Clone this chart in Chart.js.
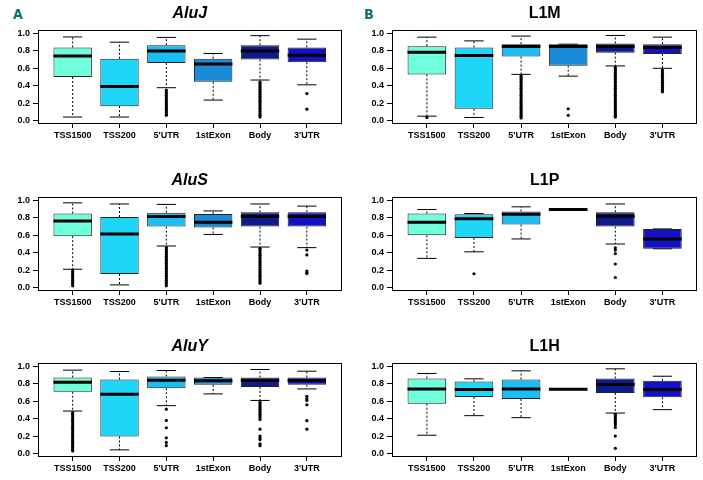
<!DOCTYPE html>
<html>
<head>
<meta charset="utf-8">
<script src="https://cdn.jsdelivr.net/npm/chart.js@4.4.1/dist/chart.umd.min.js"></script>
<style>
  html, body { margin: 0; padding: 0; background: #fff; width: 703px; height: 480px; overflow: hidden; }
  canvas { position: absolute; }
  .letter { position: absolute; font-family: "Liberation Sans Narrow", "DejaVu Sans Condensed", sans-serif;
            font-weight: bold; font-size: 14px; line-height: 14px; color: #0f6e70; }
</style>
</head>
<body>
<div class="letter" style="left:13px;top:7px">A</div>
<div class="letter" style="left:364px;top:7px">B</div>
<canvas id="c0" width="351" height="146" style="left:0;top:0"></canvas>
<canvas id="c1" width="352" height="146" style="left:351px;top:0"></canvas>
<canvas id="c2" width="351" height="146" style="left:0;top:167px"></canvas>
<canvas id="c3" width="352" height="146" style="left:351px;top:167px"></canvas>
<canvas id="c4" width="351" height="146" style="left:0;top:333px"></canvas>
<canvas id="c5" width="352" height="146" style="left:351px;top:333px"></canvas>
<script>
const CATEGORIES = ['TSS1500', 'TSS200', "5'UTR", '1stExon', 'Body', "3'UTR"];
const Y_TICKS = [0, 0.2, 0.4, 0.6, 0.8, 1.0];
const COLORS = ['#70FFDC', '#1ED6F8', '#1BBEF3', '#1A8BD8', '#0D1B8F', '#1212C4'];

// per category: [lower whisker, Q1, median, Q3, upper whisker]
const ALUJ = [
  [0.04, 0.50, 0.74, 0.84, 0.96],
  [0.04, 0.165, 0.39, 0.71, 0.90],
  [0.377, 0.66, 0.80, 0.865, 0.955],
  [0.235, 0.445, 0.65, 0.71, 0.77],
  [0.465, 0.70, 0.80, 0.865, 0.975],
  [0.41, 0.67, 0.75, 0.84, 0.935]
];
const ALUJ_OUT = [
  [], [],
  [0.35, 0.33, 0.31, 0.29, 0.27, 0.25, 0.23, 0.21, 0.19, 0.17, 0.15, 0.13, 0.11, 0.09, 0.07, 0.06],
  [],
  [0.44, 0.42, 0.40, 0.38, 0.36, 0.34, 0.32, 0.30, 0.28, 0.26, 0.24, 0.22, 0.20, 0.18, 0.16, 0.14, 0.12, 0.10, 0.08, 0.06, 0.04],
  [0.31, 0.13]
];

const L1M = [
  [0.05, 0.53, 0.785, 0.854, 0.958],
  [0.035, 0.135, 0.746, 0.84, 0.915],
  [0.53, 0.735, 0.85, 0.877, 0.97],
  [0.51, 0.63, 0.85, 0.877, 0.877],
  [0.627, 0.78, 0.85, 0.885, 0.977],
  [0.60, 0.765, 0.838, 0.877, 0.958]
];
const L1M_OUT = [
  [0.035],
  [],
  [0.51, 0.49, 0.47, 0.45, 0.43, 0.41, 0.39, 0.37, 0.35, 0.33, 0.31, 0.29, 0.27, 0.25, 0.23, 0.21, 0.19, 0.17, 0.15, 0.13, 0.11, 0.09, 0.07, 0.05, 0.03],
  [0.135, 0.06],
  [0.61, 0.59, 0.57, 0.55, 0.53, 0.51, 0.49, 0.47, 0.45, 0.43, 0.41, 0.39, 0.37, 0.35, 0.33, 0.31, 0.29, 0.27, 0.25, 0.23, 0.21, 0.19, 0.17, 0.15, 0.13, 0.11, 0.09, 0.07, 0.05, 0.04],
  [0.58, 0.56, 0.54, 0.52, 0.50, 0.48, 0.46, 0.44, 0.42, 0.40, 0.38, 0.36, 0.34, 0.33]
];

const ALUS = [
  [0.21, 0.59, 0.765, 0.85, 0.973],
  [0.03, 0.155, 0.615, 0.81, 0.96],
  [0.477, 0.70, 0.815, 0.86, 0.955],
  [0.61, 0.69, 0.75, 0.846, 0.88],
  [0.465, 0.70, 0.815, 0.865, 0.96],
  [0.458, 0.70, 0.815, 0.865, 0.935]
];
const ALUS_OUT = [
  [0.20, 0.18, 0.16, 0.14, 0.12, 0.10, 0.08, 0.06, 0.04, 0.02],
  [],
  [0.46, 0.44, 0.42, 0.40, 0.38, 0.36, 0.34, 0.32, 0.30, 0.28, 0.26, 0.24, 0.22, 0.20, 0.18, 0.16, 0.14, 0.12, 0.10, 0.08, 0.06, 0.04, 0.02],
  [],
  [0.45, 0.43, 0.41, 0.39, 0.37, 0.35, 0.33, 0.31, 0.29, 0.27, 0.25, 0.23, 0.21, 0.19, 0.17, 0.15, 0.13, 0.11, 0.09, 0.07, 0.05],
  [0.43, 0.375, 0.19, 0.17, 0.16]
];

const L1P = [
  [0.335, 0.60, 0.75, 0.85, 0.896],
  [0.41, 0.57, 0.79, 0.842, 0.85],
  [0.558, 0.723, 0.842, 0.873, 0.927],
  [0.896, 0.896, 0.896, 0.896, 0.896],
  [0.50, 0.70, 0.82, 0.865, 0.96],
  [0.445, 0.445, 0.558, 0.673, 0.673]
];
const L1P_OUT = [[], [0.158], [], [], [0.455, 0.43, 0.39, 0.27, 0.115], []];

const ALUY = [
  [0.488, 0.71, 0.82, 0.873, 0.958],
  [0.042, 0.196, 0.68, 0.85, 0.942],
  [0.55, 0.75, 0.842, 0.885, 0.954],
  [0.685, 0.79, 0.835, 0.873, 0.873],
  [0.61, 0.765, 0.838, 0.873, 0.965],
  [0.742, 0.79, 0.838, 0.873, 0.946]
];
const ALUY_OUT = [
  [0.47, 0.45, 0.43, 0.41, 0.39, 0.37, 0.35, 0.33, 0.31, 0.29, 0.27, 0.25, 0.23, 0.21, 0.19, 0.17, 0.15, 0.13, 0.11, 0.09, 0.07, 0.05, 0.03],
  [],
  [0.51, 0.38, 0.296, 0.18, 0.127, 0.09],
  [],
  [0.59, 0.57, 0.55, 0.53, 0.51, 0.49, 0.47, 0.45, 0.43, 0.41, 0.39, 0.28, 0.20, 0.18, 0.16, 0.11, 0.09],
  [0.657, 0.63, 0.61, 0.56, 0.377, 0.28]
];

const L1H = [
  [0.21, 0.573, 0.742, 0.862, 0.92],
  [0.435, 0.65, 0.735, 0.827, 0.858],
  [0.412, 0.627, 0.742, 0.85, 0.95],
  [0.738, 0.738, 0.738, 0.738, 0.738],
  [0.465, 0.696, 0.792, 0.862, 0.973],
  [0.504, 0.646, 0.735, 0.835, 0.888]
];
const L1H_OUT = [[], [], [], [], [0.45, 0.43, 0.41, 0.39, 0.37, 0.35, 0.33, 0.30, 0.20, 0.06], []];

// box width / staple half width in x units (1 unit = category spacing)
const BOX = 0.82;
const CAP = 0.205;

Chart.defaults.font.family = '"Liberation Sans", Arial, sans-serif';
Chart.defaults.color = '#000';

const frame = {
  id: 'frame',
  afterDatasetsDraw(chart) {
    const a = chart.chartArea, ctx = chart.ctx;
    ctx.save();
    ctx.strokeStyle = '#000';
    ctx.lineWidth = 1;
    ctx.strokeRect(Math.round(a.left) + 0.5, Math.round(a.top) + 0.5,
      Math.round(a.right - a.left) - 1, Math.round(a.bottom - a.top) - 1);
    ctx.restore();
  }
};

function makeChart(id, title, italic, stats, outs, padL, padR) {
  const boxes = [], whisk = [], caps = [], meds = [], pts = [];
  stats.forEach((s, i) => {
    const x = i + 1;
    boxes.push({ x: x, y: [s[1], s[3]] });
    whisk.push({ x: x, y: s[3] }, { x: x, y: s[4] }, { x: x, y: null },
               { x: x, y: s[1] }, { x: x, y: s[0] }, { x: x, y: null });
    caps.push({ x: x - CAP, y: s[4] }, { x: x + CAP, y: s[4] }, { x: x, y: null },
              { x: x - CAP, y: s[0] }, { x: x + CAP, y: s[0] }, { x: x, y: null });
    meds.push({ x: x - BOX / 2, y: s[2] }, { x: x + BOX / 2, y: s[2] }, { x: x, y: null });
    outs[i].forEach(v => pts.push({ x: x, y: v }));
  });

  new Chart(document.getElementById(id), {
    type: 'bar',
    data: {
      datasets: [
        { type: 'line', data: whisk, borderColor: '#000', borderWidth: 1, borderDash: [2, 2],
          pointRadius: 0, spanGaps: false, order: 3 },
        { type: 'line', data: caps, borderColor: '#000', borderWidth: 1,
          pointRadius: 0, spanGaps: false, order: 3 },
        { type: 'bar', data: boxes, backgroundColor: COLORS, borderColor: '#222', borderWidth: 1,
          borderSkipped: false, barPercentage: BOX, categoryPercentage: 1, order: 2 },
        { type: 'line', data: meds, borderColor: '#000', borderWidth: 3,
          pointRadius: 0, spanGaps: false, order: 1 },
        { type: 'scatter', data: pts, backgroundColor: '#000', borderWidth: 0,
          pointRadius: 1.6, order: 0 }
      ]
    },
    options: {
      responsive: false,
      animation: false,
      events: [],
      layout: { padding: { left: 0, right: padR, top: 0, bottom: 0 } },
      plugins: {
        legend: { display: false },
        tooltip: { enabled: false },
        title: {
          display: true, text: title, fullSize: false, color: '#000',
          font: { size: 16, weight: 'bold', style: italic ? 'italic' : 'normal', lineHeight: 1 },
          padding: { top: 6, bottom: 8 }
        }
      },
      scales: {
        x: {
          type: 'linear', min: 0.26, max: 6.74, offset: false,
          afterBuildTicks: s => { s.ticks = CATEGORIES.map((c, i) => ({ value: i + 1 })); },
          afterFit: s => { s.height = 22; },
          ticks: { autoSkip: false, maxRotation: 0, padding: 2, color: '#000',
                   font: { size: 9, weight: 'bold' },
                   callback: v => CATEGORIES[v - 1] },
          grid: { offset: false, drawOnChartArea: false, tickLength: 4, color: '#000' },
          border: { display: false }
        },
        y: {
          type: 'linear', min: -0.04, max: 1.04,
          afterBuildTicks: s => { s.ticks = Y_TICKS.map(v => ({ value: v })); },
          afterFit: s => { s.width = padL; },
          ticks: { padding: 3, color: '#000', font: { size: 9, weight: 'bold' },
                   callback: v => v.toFixed(1) },
          grid: { drawOnChartArea: false, tickLength: 5, color: '#000' },
          border: { display: false }
        }
      }
    },
    plugins: [frame]
  });
}

makeChart('c0', 'AluJ', true, ALUJ, ALUJ_OUT, 38, 9.5);
makeChart('c1', 'L1M', false, L1M, L1M_OUT, 41, 5.7);
makeChart('c2', 'AluS', true, ALUS, ALUS_OUT, 38, 9.5);
makeChart('c3', 'L1P', false, L1P, L1P_OUT, 41, 5.7);
makeChart('c4', 'AluY', true, ALUY, ALUY_OUT, 38, 9.5);
makeChart('c5', 'L1H', false, L1H, L1H_OUT, 41, 5.7);
</script>
</body>
</html>
